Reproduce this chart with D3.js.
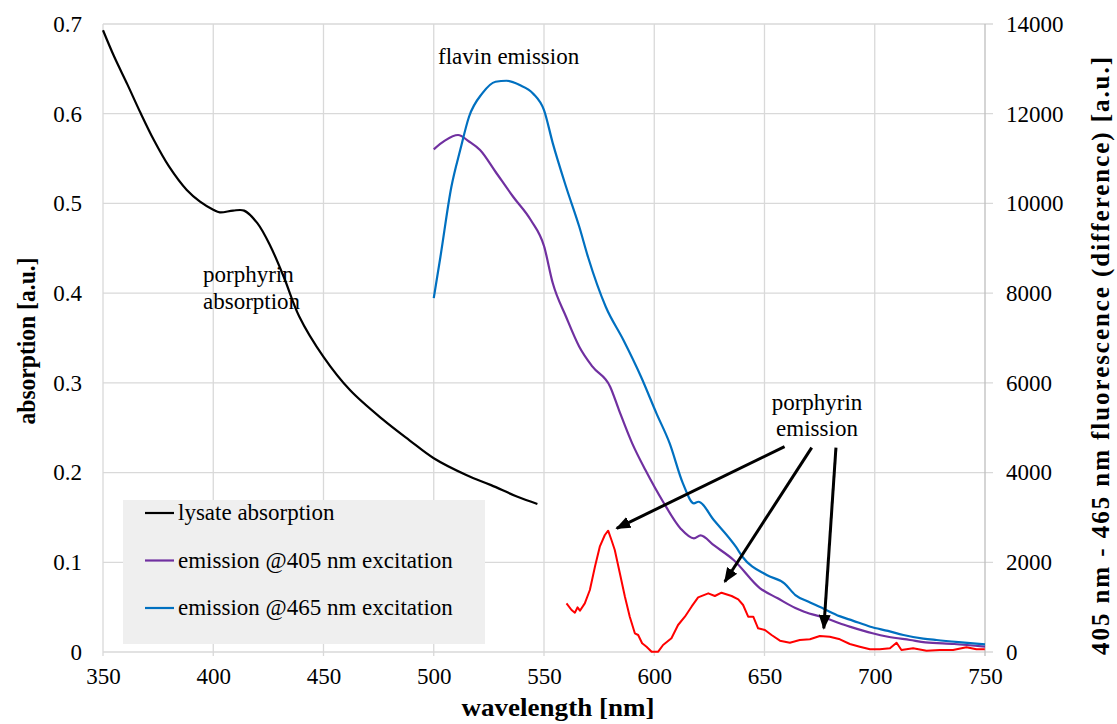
<!DOCTYPE html>
<html>
<head>
<meta charset="utf-8">
<script src="https://cdn.jsdelivr.net/npm/d3@7"></script>
<style>
  body { margin: 0; background: #fff; }
  svg { display: block; font-family: "Liberation Serif", "DejaVu Serif", serif; }
</style>
</head>
<body>
<svg id="chart" width="1117" height="724"></svg>
<script>
// lysate absorption (left axis)
const absWl  = [350, 355, 361, 367, 373, 380, 388, 394, 400, 403, 409, 414, 420, 426, 432, 439, 450, 462, 477, 489, 500, 515, 526, 538, 547];
const absVal = [0.693, 0.664, 0.633, 0.601, 0.571, 0.541, 0.515, 0.502, 0.493, 0.490, 0.492, 0.492, 0.478, 0.452, 0.418, 0.374, 0.329, 0.292, 0.259, 0.236, 0.216, 0.197, 0.186, 0.173, 0.165];

// emission @405 nm excitation (right axis)
const em405Wl  = [500, 505, 511, 516, 521, 528, 536, 544, 550, 554, 560, 566, 572, 580, 584, 590, 596, 604, 612, 618, 621, 627, 636, 648, 656, 664, 668, 678, 684, 689, 699, 706, 716, 723, 736, 750];
const em405Val = [11206, 11400, 11525, 11380, 11190, 10706, 10149, 9630, 9050, 8219, 7474, 6805, 6360, 5914, 5394, 4652, 4057, 3350, 2750, 2534, 2600, 2380, 2051, 1420, 1197, 980, 898, 751, 640, 560, 417, 340, 267, 215, 178, 118];

// emission @465 nm excitation (right axis)
const em465Wl  = [500, 503, 508, 512, 516, 522, 528, 533, 539, 545, 550, 554, 560, 566, 570, 578, 586, 594, 601, 607, 613, 618, 620, 627, 637, 640, 651, 659, 664, 670, 677, 684, 690, 698, 706, 713, 722, 728, 738, 750];
const em465Val = [7890, 8800, 10372, 11190, 11932, 12453, 12713, 12735, 12639, 12453, 12081, 11339, 10372, 9480, 8800, 7697, 6955, 6137, 5321, 4652, 3760, 3315, 3350, 2942, 2347, 2124, 1716, 1531, 1270, 1120, 960, 800, 700, 564, 470, 380, 300, 267, 220, 171];

// 405 - 465 difference (right axis)
const diffWl  = [560.2, 562.5, 564, 565.2, 566.3, 568.5, 570.8, 573.1, 575.3, 577.6, 579.1, 580.6, 582.1, 584.4, 586.7, 588.9, 591.2, 592.7, 594.5, 596.5, 598.8, 601.8, 604, 607.8, 610.8, 613.9, 616.9, 619.9, 624.5, 627.5, 630.5, 635.1, 638.1, 640.3, 642.6, 644.9, 647.1, 650.2, 653.2, 657, 661.5, 666, 670.6, 675.1, 679.6, 684.2, 688.7, 693.2, 697.8, 702.3, 706.9, 709.9, 712.1, 717.4, 723.5, 729.5, 735.5, 741.6, 746.1, 749.9];
const diffVal = [1085, 936, 876, 996, 921, 1085, 1382, 1901, 2347, 2608, 2704, 2496, 2274, 1754, 1233, 787, 417, 379, 194, 118, 7, 7, 156, 305, 602, 787, 1010, 1219, 1308, 1248, 1322, 1248, 1174, 1048, 787, 787, 528, 490, 379, 252, 207, 267, 283, 357, 341, 283, 178, 118, 60, 60, 82, 207, 45, 82, 29, 45, 45, 105, 60, 60];

const xTicks    = [350, 400, 450, 500, 550, 600, 650, 700, 750];
const absTicks  = [0, 0.1, 0.2, 0.3, 0.4, 0.5, 0.6, 0.7];
const fluoTicks = [0, 2000, 4000, 6000, 8000, 10000, 12000, 14000];

// arrows [fromWl, fromVal, toWl, toVal] in right-axis units
const arrows = [
  [659.1, 4577, 583.0, 2757],
  [671.4, 4555, 632.0, 1567],
  [682.4, 4555, 676.9, 528]
];

const legendNames  = ["lysate absorption", "emission @405 nm excitation", "emission @465 nm excitation"];
const legendColors = ["#000000", "#7030a0", "#0070c0"];

const plotL = 103, plotR = 985, plotT = 24, plotB = 652;

const x = d3.scaleLinear().domain([350, 750]).range([plotL, plotR]);
const yL = d3.scaleLinear().domain([0, 0.7]).range([plotB, plotT]);
const yR = d3.scaleLinear().domain([0, 14000]).range([plotB, plotT]);

const svg = d3.select("#chart");

// grid
svg.append("g")
  .selectAll("line")
  .data(absTicks)
  .join("line")
  .attr("x1", plotL).attr("x2", plotR + 8)
  .attr("y1", d => yL(d)).attr("y2", d => yL(d))
  .attr("stroke", "#d9d9d9").attr("stroke-width", 1.3);

svg.append("g")
  .selectAll("line")
  .data(xTicks)
  .join("line")
  .attr("x1", d => x(d)).attr("x2", d => x(d))
  .attr("y1", plotT).attr("y2", plotB + 4)
  .attr("stroke", d => d === 750 ? "#bfbfbf" : "#d9d9d9").attr("stroke-width", 1.3);

// tick labels
const tickFont = g => {
  g.select(".domain").remove();
  g.selectAll(".tick line").remove();
  g.selectAll("text").attr("font-size", 23).attr("fill", "#000")
    .attr("font-family", "Liberation Serif, serif");
};

svg.append("g")
  .attr("transform", `translate(${plotL - 21},0)`)
  .call(d3.axisLeft(yL).tickValues(absTicks).tickSize(0).tickPadding(0).tickFormat(d3.format("~g")))
  .call(tickFont);

svg.append("g")
  .attr("transform", `translate(${plotR + 21},0)`)
  .call(d3.axisRight(yR).tickValues(fluoTicks).tickSize(0).tickPadding(0).tickFormat(d3.format("d")))
  .call(tickFont);

svg.append("g")
  .attr("transform", `translate(0,${plotB + 16})`)
  .call(d3.axisBottom(x).tickValues(xTicks).tickSize(0).tickPadding(0))
  .call(tickFont);

// axis titles
svg.append("text")
  .attr("transform", "translate(35,341) rotate(-90)")
  .attr("text-anchor", "middle")
  .attr("font-size", 25).attr("font-weight", "bold")
  .attr("textLength", 167).attr("lengthAdjust", "spacingAndGlyphs")
  .text("absorption [a.u.]");

svg.append("text")
  .attr("transform", "translate(1109,356) rotate(-90)")
  .attr("text-anchor", "middle")
  .attr("font-size", 25).attr("font-weight", "bold")
  .attr("textLength", 598).attr("lengthAdjust", "spacing")
  .text("405 nm - 465 nm fluorescence (difference) [a.u.]");

svg.append("text")
  .attr("x", 558).attr("y", 716)
  .attr("text-anchor", "middle")
  .attr("font-size", 26).attr("font-weight", "bold")
  .attr("textLength", 193).attr("lengthAdjust", "spacingAndGlyphs")
  .text("wavelength [nm]");

// curves
const lineAbs = d3.line().x(i => x(absWl[i])).y(i => yL(absVal[i])).curve(d3.curveCatmullRom.alpha(0.5));
svg.append("path")
  .attr("d", lineAbs(d3.range(absWl.length)))
  .attr("fill", "none").attr("stroke", "#000").attr("stroke-width", 2.2);

const line405 = d3.line().x(i => x(em405Wl[i])).y(i => yR(em405Val[i])).curve(d3.curveMonotoneX);
svg.append("path")
  .attr("d", line405(d3.range(em405Wl.length)))
  .attr("fill", "none").attr("stroke", "#7030a0").attr("stroke-width", 2.2);

const line465 = d3.line().x(i => x(em465Wl[i])).y(i => yR(em465Val[i])).curve(d3.curveMonotoneX);
svg.append("path")
  .attr("d", line465(d3.range(em465Wl.length)))
  .attr("fill", "none").attr("stroke", "#0070c0").attr("stroke-width", 2.2);

const lineDiff = d3.line().x(i => x(diffWl[i])).y(i => yR(diffVal[i]));
svg.append("path")
  .attr("d", lineDiff(d3.range(diffWl.length)))
  .attr("fill", "none").attr("stroke", "#ff0000").attr("stroke-width", 2)
  .attr("stroke-linejoin", "round");

// legend
const lg = svg.append("g");
lg.append("rect")
  .attr("x", 123).attr("y", 500).attr("width", 362).attr("height", 144)
  .attr("fill", "#efefef");
legendNames.forEach((name, i) => {
  const ly = 513 + i * 47.5;
  lg.append("line")
    .attr("x1", 145).attr("x2", 174).attr("y1", ly).attr("y2", ly)
    .attr("stroke", legendColors[i]).attr("stroke-width", 2.2);
  lg.append("text")
    .attr("x", 178).attr("y", ly + 7)
    .attr("font-size", 23)
    .text(name);
});

// annotations
svg.append("text").attr("x", 438).attr("y", 64).attr("font-size", 23).text("flavin emission");

const pa = svg.append("text").attr("font-size", 23);
pa.append("tspan").attr("x", 203).attr("y", 282).text("porphyrin");
pa.append("tspan").attr("x", 203).attr("y", 309).text("absorption");

const pe = svg.append("text").attr("font-size", 23).attr("text-anchor", "middle");
pe.append("tspan").attr("x", 817).attr("y", 410).text("porphyrin");
pe.append("tspan").attr("x", 817).attr("y", 436).text("emission");

svg.append("defs").append("marker")
  .attr("id", "head")
  .attr("viewBox", "0 0 10 10")
  .attr("refX", 9).attr("refY", 5)
  .attr("markerWidth", 5).attr("markerHeight", 5)
  .attr("markerUnits", "strokeWidth")
  .attr("orient", "auto")
  .append("path").attr("d", "M0,1 L10,5 L0,9 Z").attr("fill", "#000");

svg.append("g")
  .selectAll("line")
  .data(arrows)
  .join("line")
  .attr("x1", d => x(d[0])).attr("y1", d => yR(d[1]))
  .attr("x2", d => x(d[2])).attr("y2", d => yR(d[3]))
  .attr("stroke", "#000").attr("stroke-width", 3)
  .attr("marker-end", "url(#head)");
</script>
</body>
</html>
